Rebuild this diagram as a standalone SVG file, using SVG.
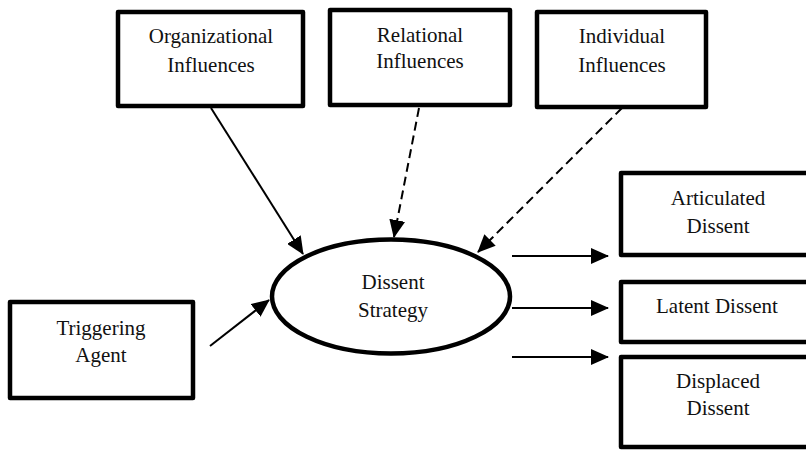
<svg xmlns="http://www.w3.org/2000/svg" width="806" height="450" viewBox="0 0 806 450">
<style>
.box{fill:#fff;stroke:#000;stroke-width:4.5;stroke-linejoin:round}
.t{font-size:21px;fill:#111;text-anchor:middle}
.c{stroke:#000;stroke-width:2;fill:none}
.d{stroke-dasharray:9 5}
</style>
<defs>
<marker id="ah" markerUnits="userSpaceOnUse" markerWidth="18" markerHeight="16" viewBox="0 0 18 16" refX="17" refY="8" orient="auto">
<path d="M0,0 L18,8 L0,16 Z" fill="#000"/>
</marker>
</defs>
<rect width="806" height="450" fill="#fff"/>
<g font-family="Liberation Serif, Times New Roman, Times, serif">
<g id="organizational">
<rect class="box" x="118" y="12" width="185" height="94"/>
<text class="t" x="211" y="43">Organizational</text>
<text class="t" x="211" y="72">Influences</text>
</g>
<g id="relational">
<rect class="box" x="330" y="10" width="180" height="95"/>
<text class="t" x="420" y="42">Relational</text>
<text class="t" x="420" y="68">Influences</text>
</g>
<g id="individual">
<rect class="box" x="537" y="12" width="169" height="95"/>
<text class="t" x="622" y="43">Individual</text>
<text class="t" x="622" y="72">Influences</text>
</g>
<g id="dissent-strategy">
<ellipse cx="391" cy="296.5" rx="119" ry="57" fill="#fff" stroke="#000" stroke-width="4.5"/>
<text class="t" x="393" y="289">Dissent</text>
<text class="t" x="393" y="317">Strategy</text>
</g>
<g id="triggering-agent">
<rect class="box" x="10" y="302" width="183" height="96"/>
<text class="t" x="101" y="335">Triggering</text>
<text class="t" x="101" y="362">Agent</text>
</g>
<g id="articulated">
<rect class="box" x="621" y="173" width="210" height="82"/>
<text class="t" x="718" y="205">Articulated</text>
<text class="t" x="718" y="233">Dissent</text>
</g>
<g id="latent">
<rect class="box" x="621" y="282" width="210" height="60"/>
<text class="t" x="717" y="313">Latent Dissent</text>
</g>
<g id="displaced">
<rect class="box" x="621" y="357" width="210" height="90"/>
<text class="t" x="718" y="388">Displaced</text>
<text class="t" x="718" y="415">Dissent</text>
</g>
</g>
<g id="connectors">
<line class="c" x1="211" y1="108" x2="303" y2="254" marker-end="url(#ah)"/>
<line class="c d" x1="419" y1="108" x2="394" y2="237" marker-end="url(#ah)"/>
<line class="c d" x1="622" y1="108" x2="478" y2="252" marker-end="url(#ah)"/>
<line class="c" x1="210" y1="346" x2="269" y2="300" marker-end="url(#ah)"/>
<line class="c" x1="512" y1="256" x2="608" y2="256" marker-end="url(#ah)"/>
<line class="c" x1="512" y1="308" x2="608" y2="308" marker-end="url(#ah)"/>
<line class="c" x1="512" y1="357" x2="608" y2="357" marker-end="url(#ah)"/>
</g>
</svg>
